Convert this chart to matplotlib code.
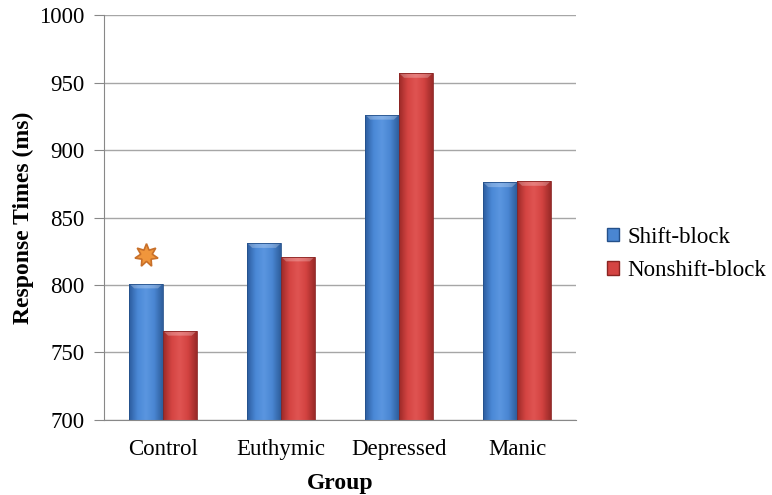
import numpy as np
import matplotlib
matplotlib.use("Agg")
import matplotlib.pyplot as plt
from matplotlib.colors import LinearSegmentedColormap
from matplotlib.patches import Patch

groups = ["Control", "Euthymic", "Depressed", "Manic"]
shift_block = [801, 831, 926, 876]
nonshift_block = [766, 821, 957, 877]
star_value = 822

plt.rcParams['font.family'] = ['Liberation Serif', 'DejaVu Serif']

fig = plt.figure(figsize=(7.72, 4.95), dpi=100)
ax = fig.add_axes([104 / 772, 1 - 420 / 495, 472 / 772, 405 / 495])

x = np.arange(len(groups))
width = 0.287

blue_cmap = LinearSegmentedColormap.from_list(
    "b", ["#2c5c9e", "#4a88d6", "#5b96e0", "#4a86d2", "#2e5e9c"])
red_cmap = LinearSegmentedColormap.from_list(
    "r", ["#9c2a28", "#d44442", "#e05452", "#d24240", "#9a2a28"])
grad = np.linspace(0, 1, 64).reshape(1, -1)


def shaded_bars(xs, vals, cmap, edge):
    bars = ax.bar(xs, vals, width, bottom=0, color="none", edgecolor=edge,
                  linewidth=0.6, zorder=3)
    for b in bars:
        x0, w, h = b.get_x(), b.get_width(), b.get_height()
        im = ax.imshow(grad, cmap=cmap, aspect="auto", zorder=2.5,
                       extent=[x0, x0 + w, 700, h], interpolation="bicubic")
        im.set_clip_path(b)
        # light bevel on the top
        ax.fill([x0, x0 + w, x0 + w * 0.85, x0 + w * 0.15],
                [h, h, h - 3.5, h - 3.5], color="white", alpha=0.25,
                lw=0, zorder=2.6)
    return bars


shaded_bars(x - width / 2, shift_block, blue_cmap, "#24508a")
shaded_bars(x + width / 2, nonshift_block, red_cmap, "#8a2422")

ax.plot(x[0] - width / 2, star_value, marker=(7, 1, 0), markersize=17,
        color="#f0963c", markeredgecolor="#c8702a", markeredgewidth=1.2,
        zorder=4)

ax.set_xlim(-0.5, len(groups) - 0.5)
ax.set_ylim(700, 1000)
ax.set_yticks(np.arange(700, 1001, 50))
ax.set_xticks(x)
ax.set_xticklabels(groups)
ax.yaxis.grid(True, color="#a6a6a6", linewidth=1.0, zorder=0)
ax.set_axisbelow(True)
for s in ["top", "right"]:
    ax.spines[s].set_visible(False)
ax.spines["left"].set_color("#888888")
ax.spines["bottom"].set_color("#888888")
ax.tick_params(axis="y", length=7, color="#888888", labelsize=16.5, pad=7)
ax.tick_params(axis="x", length=0, labelsize=16.5, pad=14)

ax.set_ylabel("Response Times (ms)", fontsize=17, fontweight="bold", labelpad=4)
ax.set_xlabel("Group", fontsize=17, fontweight="bold", labelpad=9)

handles = [Patch(facecolor="#4a86d2", edgecolor="#24508a"),
           Patch(facecolor="#d44442", edgecolor="#8a2422")]
fig.legend(handles, ["Shift-block", "Nonshift-block"], loc="center left",
           bbox_to_anchor=(586 / 772, 1 - 254 / 495), frameon=False,
           fontsize=16.5, handlelength=0.55, handleheight=0.55,
           handletextpad=0.35, labelspacing=0.55)

fig.savefig("out.png", dpi=100)
